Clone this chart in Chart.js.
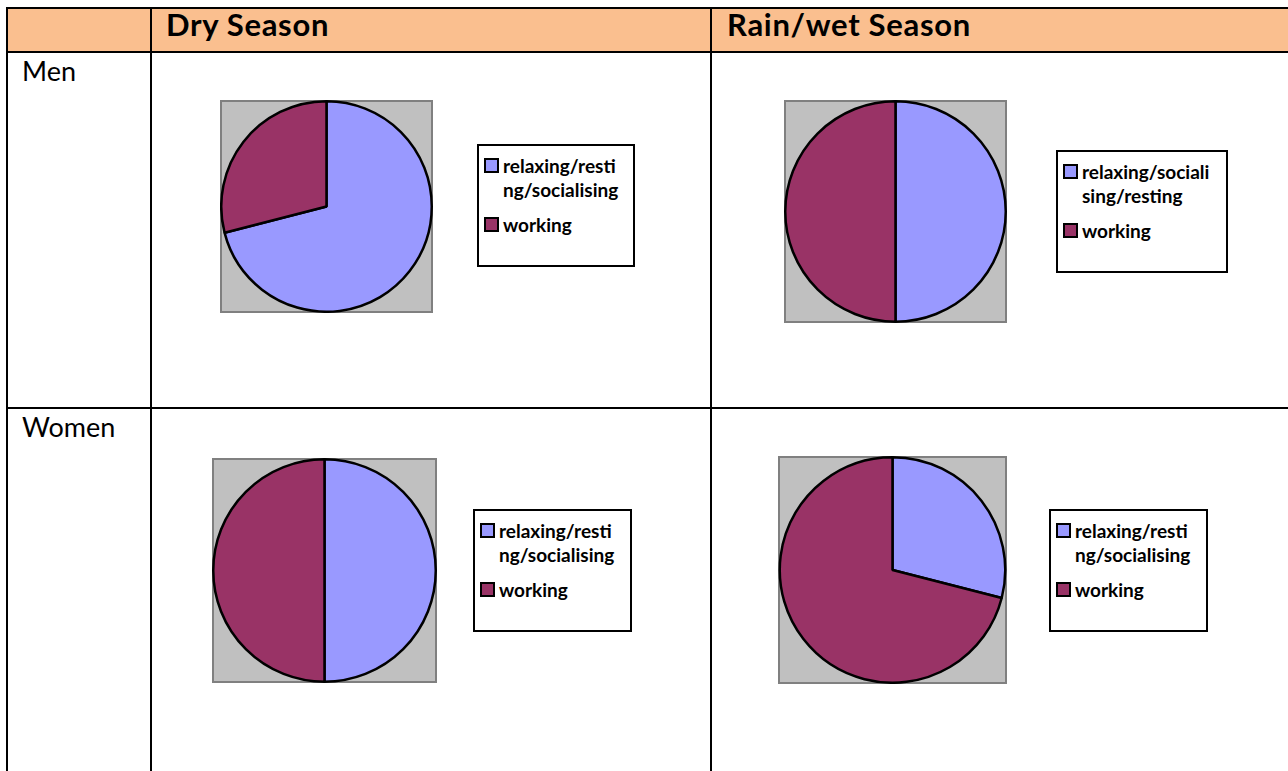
<!DOCTYPE html>
<html>
<head>
<meta charset="utf-8">
<script src="https://cdn.jsdelivr.net/npm/chart.js@4"></script>
<style>
body { margin: 0; background: #fff; width: 1288px; height: 771px; overflow: hidden; position: relative; font-family: Lato, "Open Sans", sans-serif; color: #000; }
.line { position: absolute; background: #000; }
.headbg { position: absolute; background: #FABF8F; }
.head { position: absolute; font-weight: 700; font-size: 31px; letter-spacing: 0.7px; line-height: 1; white-space: nowrap; }
.rowlab { position: absolute; font-size: 27px; line-height: 1; white-space: nowrap; }
.pie { position: absolute; }
.legend { position: absolute; border: 2px solid #000; background: #fff; box-sizing: border-box; padding: 8px 0 0 5px; font-weight: 700; font-size: 19px; }
.item { display: flex; align-items: flex-start; }
.item + .item { margin-top: 11px; }
.swatch { width: 11px; height: 11px; border: 2px solid #000; margin-top: 4px; margin-right: 4px; flex: none; }
.txt { line-height: 24px; white-space: nowrap; }
</style>
</head>
<body>
<div class="headbg" style="left:8px;top:9px;width:1280px;height:42px"></div>
<div class="line" style="left:6px;top:7px;width:1282px;height:2px"></div>
<div class="line" style="left:6px;top:51px;width:1282px;height:2px"></div>
<div class="line" style="left:6px;top:407px;width:1282px;height:2px"></div>
<div class="line" style="left:6px;top:7px;width:2px;height:764px"></div>
<div class="line" style="left:150px;top:7px;width:2px;height:764px"></div>
<div class="line" style="left:710px;top:7px;width:2px;height:764px"></div>

<div class="head" id="h0" style="left:166px;top:9px"></div>
<div class="head" id="h1" style="left:727px;top:9px"></div>
<div class="rowlab" id="r0" style="left:22px;top:57px"></div>
<div class="rowlab" id="r1" style="left:22px;top:413px"></div>

<div class="pie" style="left:220px;top:100px;width:213px;height:213px"><canvas id="c0"></canvas></div>
<div class="legend" id="l0" style="left:477px;top:144px;width:158px;height:123px"></div>
<div class="pie" style="left:784px;top:100px;width:223px;height:223px"><canvas id="c1"></canvas></div>
<div class="legend" id="l1" style="left:1056px;top:150px;width:172px;height:123px"></div>
<div class="pie" style="left:212px;top:458px;width:225px;height:225px"><canvas id="c2"></canvas></div>
<div class="legend" id="l2" style="left:473px;top:509px;width:159px;height:123px"></div>
<div class="pie" style="left:778px;top:456px;width:229px;height:228px"><canvas id="c3"></canvas></div>
<div class="legend" id="l3" style="left:1049px;top:509px;width:159px;height:123px"></div>

<script>
// données
const seasons = ['Dry Season', 'Rain/wet Season'];
const groups = ['Men', 'Women'];
const labelsA = [['relaxing/resti', 'ng/socialising'], ['working']];
const labelsB = [['relaxing/sociali', 'sing/resting'], ['working']];
const menDry = [71, 29];
const menWet = [50, 50];
const womenDry = [50, 50];
const womenWet = [29, 71];
const sliceColors = ['#9999FF', '#993366'];

document.getElementById('h0').textContent = seasons[0];
document.getElementById('h1').textContent = seasons[1];
document.getElementById('r0').textContent = groups[0];
document.getElementById('r1').textContent = groups[1];

// fond gris derrière chaque camembert
const greyBox = {
    id: 'greyBox',
    beforeDraw(chart) {
        const ctx = chart.ctx;
        ctx.save();
        ctx.fillStyle = '#C0C0C0';
        ctx.fillRect(0, 0, chart.width, chart.height);
        ctx.strokeStyle = '#808080';
        ctx.lineWidth = 2;
        ctx.strokeRect(1, 1, chart.width - 2, chart.height - 2);
        ctx.restore();
    }
};

function makePie(canvasId, legendId, labels, values) {
    new Chart(document.getElementById(canvasId), {
        type: 'pie',
        data: {
            labels: labels,
            datasets: [{
                data: values,
                backgroundColor: sliceColors,
                borderColor: '#000',
                borderWidth: 2.5
            }]
        },
        options: {
            responsive: true,
            maintainAspectRatio: false,
            animation: false,
            layout: { padding: 0 },
            plugins: {
                legend: { display: false },
                tooltip: { enabled: false }
            }
        },
        plugins: [greyBox]
    });

    // légende HTML
    const box = document.getElementById(legendId);
    labels.forEach((lab, i) => {
        const item = document.createElement('div');
        item.className = 'item';
        const sw = document.createElement('div');
        sw.className = 'swatch';
        sw.style.background = sliceColors[i];
        const txt = document.createElement('div');
        txt.className = 'txt';
        txt.innerHTML = lab.join('<br>');
        item.appendChild(sw);
        item.appendChild(txt);
        box.appendChild(item);
    });
}

makePie('c0', 'l0', labelsA, menDry);
makePie('c1', 'l1', labelsB, menWet);
makePie('c2', 'l2', labelsA, womenDry);
makePie('c3', 'l3', labelsA, womenWet);
</script>
</body>
</html>
